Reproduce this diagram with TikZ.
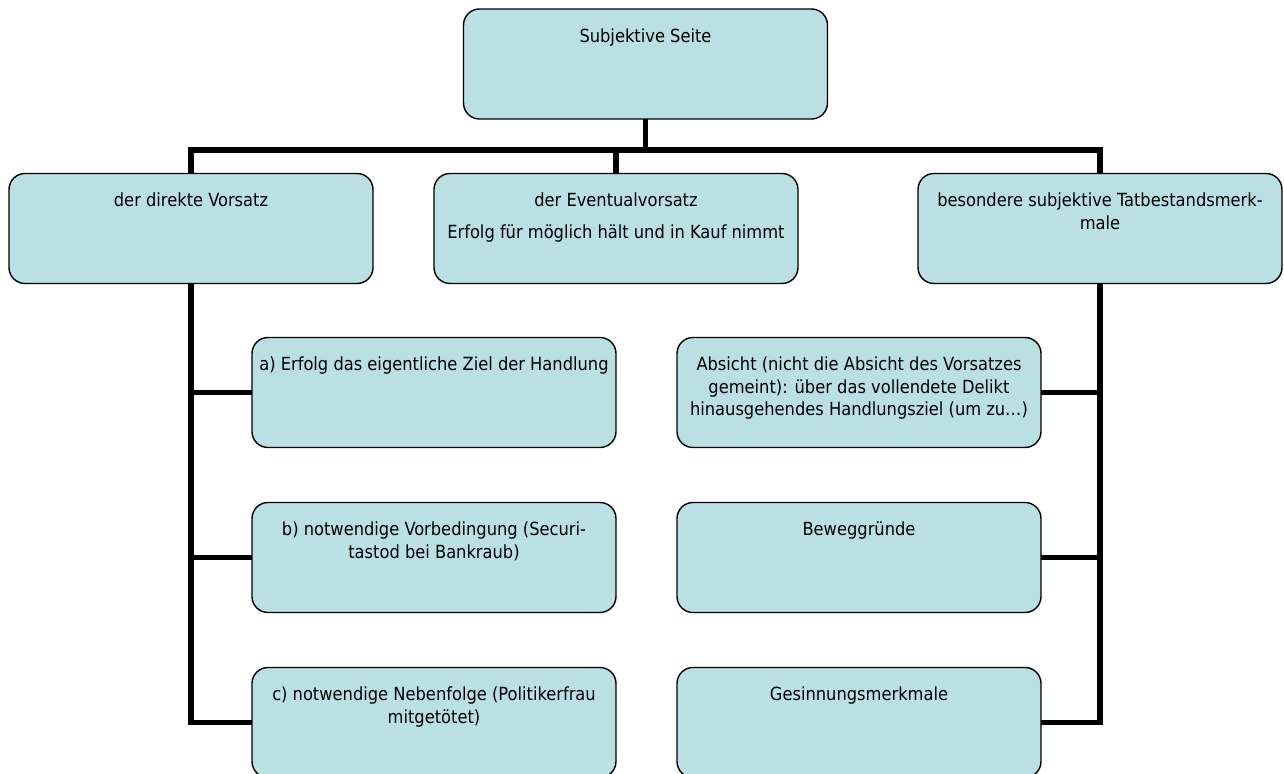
\documentclass[tikz,border=0pt]{standalone}
\usepackage{fontspec}
\setmainfont{DejaVu Sans Condensed}
\usepackage{tikz}
\usetikzlibrary{positioning}
\definecolor{boxfill}{RGB}{186,224,227}
\tikzstyle{box} = [draw, fill=boxfill, line width=0.8pt, rounded corners=0.32cm, minimum width=7.28cm, minimum height=2.2cm, inner sep=0pt, outer sep=0pt]
\tikzstyle{conn} = [line width=3.2pt]
\newcommand{\boxtext}[1]{\parbox[c][2.2cm][t]{7.1cm}{\centering\rule{0pt}{19pt}#1}}

\begin{document}
\begin{tikzpicture}[font=\fontsize{10.3}{12.7}\selectfont]
            \useasboundingbox (0,0) rectangle (25.68,-15.48);
            \coordinate (bar) at (0,-3.0);

            \node (seite) [box] at (12.91,-1.28) {\boxtext{Subjektive Seite}};

            \node (direkt) [box] at (3.82,-4.57) {\boxtext{der direkte Vorsatz}};
            \node (eventual) [box, right=1.22cm of direkt] {\boxtext{der Eventualvorsatz\\[5.5pt] Erfolg für möglich hält und in Kauf nimmt}};
            \node (besondere) [box, right=2.4cm of eventual] {\boxtext{besondere subjektive Tatbestandsmerk-\\ male}};

            \node (erfolg) [box, below=1.08cm of direkt, xshift=4.86cm] {\boxtext{a) Erfolg das eigentliche Ziel der Handlung}};
            \node (vorbed) [box, below=1.1cm of erfolg] {\boxtext{b) notwendige Vorbedingung (Securi-\\ tastod bei Bankraub)}};
            \node (nebenf) [box, below=1.1cm of vorbed] {\boxtext{c) notwendige Nebenfolge (Politikerfrau\\ mitgetötet)}};

            \node (absicht) [box, below=1.08cm of besondere, xshift=-4.82cm] {\boxtext{Absicht (nicht die Absicht des Vorsatzes\\ gemeint): über das vollendete Delikt\\ hinausgehendes Handlungsziel (um zu…)}};
            \node (beweg) [box, below=1.1cm of absicht] {\boxtext{Beweggründe}};
            \node (gesinn) [box, below=1.1cm of beweg] {\boxtext{Gesinnungsmerkmale}};

            % tree lines
            \draw[conn] (seite.south) -- (seite.south |- bar);
            \draw[conn] (direkt.north) -- (direkt.north |- bar) -| (besondere.north);
            \draw[conn] (eventual.north) -- (eventual.north |- bar);

            \draw[conn] (direkt.south) |- (erfolg.west);
            \draw[conn] (direkt.south) |- (vorbed.west);
            \draw[conn] (direkt.south) |- (nebenf.west);

            \draw[conn] (besondere.south) |- (absicht.east);
            \draw[conn] (besondere.south) |- (beweg.east);
            \draw[conn] (besondere.south) |- (gesinn.east);
        \end{tikzpicture}
\end{document}
